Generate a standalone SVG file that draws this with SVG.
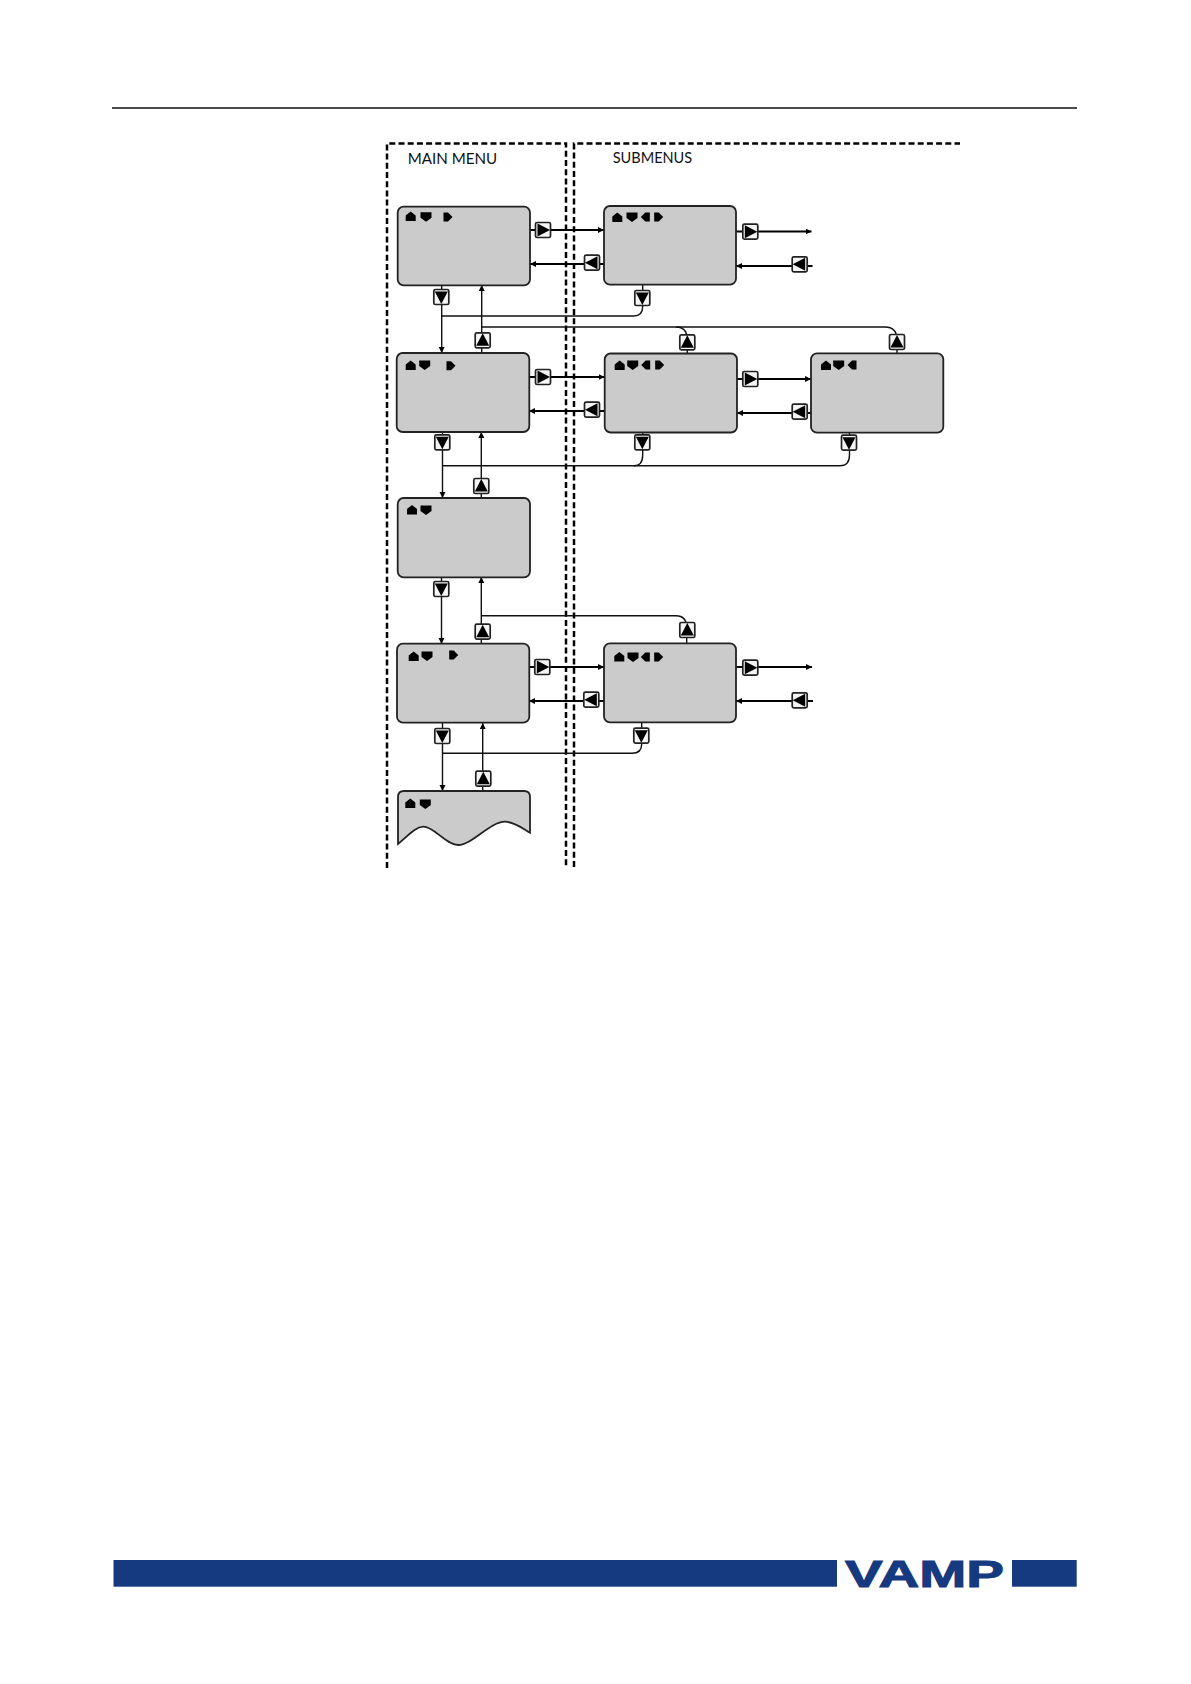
<svg xmlns="http://www.w3.org/2000/svg" xmlns:xlink="http://www.w3.org/1999/xlink" width="1191" height="1684" viewBox="0 0 1191 1684">
<style>
.scr{fill:#cbcbcb;stroke:#222;stroke-width:1.8}
.dash{fill:none;stroke:#000;stroke-width:2.5;stroke-dasharray:6 3.2}
.thin{fill:none;stroke:#111;stroke-width:1.4}
.thick{fill:none;stroke:#000;stroke-width:2}
.ah{marker-end:url(#arr)}
.lbl{font-family:Lato,"Liberation Sans",sans-serif;font-size:16px;fill:#111}
.keyb{fill:#f4f4f4;stroke:#222;stroke-width:1.7}
.ic{fill:#000}
</style>
<defs>
<marker id="arr" markerUnits="userSpaceOnUse" markerWidth="7" markerHeight="7" refX="6" refY="3" orient="auto"><path d="M0 0L6 3L0 6z" fill="#000"/></marker>
<g id="kR"><rect class="keyb" x="-7.500" y="-7.500" width="15" height="15" rx="1.6"/><path d="M-5.500-6.500L7 0L-5.500 6.500z" fill="#000"/></g>
<g id="kL"><rect class="keyb" x="-7.500" y="-7.500" width="15" height="15" rx="1.6"/><path d="M5.500-6.500L-7 0L5.500 6.500z" fill="#000"/></g>
<g id="kD"><rect class="keyb" x="-7.500" y="-7.500" width="15" height="15" rx="1.6"/><path d="M-6.500-5.500L6.500-5.500L0 7z" fill="#000"/></g>
<g id="kU"><rect class="keyb" x="-7.500" y="-7.500" width="15" height="15" rx="1.6"/><path d="M-6.500 5.500L6.500 5.500L0-7z" fill="#000"/></g>
<path id="iU" class="ic" d="M-5-1L0-5L5-1V4.500H-5z"/>
<path id="iD" class="ic" d="M-5.500-4.500H5.500V1L0 5L-5.500 1z"/>
<path id="iL" class="ic" d="M4.500-4.500V4.500H0L-4.500 0L0-4.500z"/>
<path id="iR" class="ic" d="M-4.500-4.500V4.500H0L4.500 0L0-4.500z"/>
</defs>

<rect width="1191" height="1684" fill="#fff"/>
<g id="page">
<line x1="112" y1="108" x2="1077" y2="108" stroke="#111" stroke-width="1.300"/>
<rect x="113.500" y="1560" width="723.500" height="26.700" fill="#163a80"/>
<rect x="1012" y="1560" width="64.700" height="26.700" fill="#163a80"/>
<text x="845" y="1586.700" font-family="'Liberation Sans',sans-serif" font-weight="700" font-size="36.600" fill="#163a80" stroke="#163a80" stroke-width="1" textLength="159" lengthAdjust="spacingAndGlyphs">VAMP</text>
</g>

<g id="frames">
<path class="dash" d="M387 868V143.500H566V867"/>
<path class="dash" d="M574 867V143.500H960"/>
<text class="lbl" x="407.700" y="163.500" textLength="89.500" lengthAdjust="spacingAndGlyphs">MAIN MENU</text>
<text class="lbl" x="612.700" y="162.500" textLength="79.500" lengthAdjust="spacingAndGlyphs">SUBMENUS</text>
</g>

<g id="connectors">
<path class="thick ah" d="M530 230H604"/>
<path class="thick ah" d="M604 264H530"/>
<path class="thick ah" d="M736 231.500H811.500"/>
<path class="thick ah" d="M812.500 266H736"/>
<path class="thick ah" d="M529 377H604.500"/>
<path class="thick ah" d="M604.500 411H529"/>
<path class="thick ah" d="M737 379H811"/>
<path class="thick ah" d="M811 413H737"/>
<path class="thick ah" d="M529 667H604"/>
<path class="thick ah" d="M604 701H529"/>
<path class="thick ah" d="M736 667H812"/>
<path class="thick ah" d="M813 701H736"/>

<path class="thin ah" d="M441.700 285V353"/>
<path class="thin" d="M441.700 316H634Q642.700 316 642.700 306V285"/>
<path class="thin ah" d="M481.700 353V285"/>
<path class="thin" d="M481.700 327H676Q687.300 327 687.300 340V353"/>
<path class="thin" d="M676 327H885Q897 327 897 340V353"/>

<path class="thin ah" d="M442.500 432V498"/>
<path class="thin" d="M442.500 465.700H634Q642.700 465.700 642.700 455V432"/>
<path class="thin" d="M634 465.700H840Q849.500 465.700 849.500 455V432"/>
<path class="thin ah" d="M481.300 498V432"/>

<path class="thin ah" d="M441.500 577V644"/>
<path class="thin ah" d="M481.300 644V577"/>
<path class="thin" d="M481.300 615.700H676Q686.700 615.700 686.700 628V643"/>

<path class="thin ah" d="M442.500 723V791"/>
<path class="thin" d="M442.500 753.300H632Q641.700 753.300 641.700 744V722"/>
<path class="thin ah" d="M482.700 791V723"/>
</g>

<g id="node-main-1">
<rect class="scr" x="397.700" y="206.700" width="132.300" height="78.600" rx="6"/>
<use href="#iU" x="410.700" y="216.500"/><use href="#iD" x="426" y="216.700"/><use href="#iR" x="448" y="217"/>
</g>
<g id="node-sub-1">
<rect class="scr" x="604" y="206" width="132" height="78.700" rx="6"/>
<use href="#iU" x="617.300" y="217.500"/><use href="#iD" x="632" y="217"/><use href="#iL" x="645.300" y="217"/><use href="#iR" x="658.700" y="217"/>
</g>
<g id="node-main-2">
<rect class="scr" x="396.700" y="353" width="132.600" height="79" rx="6"/>
<use href="#iU" x="410.700" y="365.500"/><use href="#iD" x="424.700" y="365"/><use href="#iR" x="451" y="365.700"/>
</g>
<g id="node-sub-2">
<rect class="scr" x="604.700" y="353.500" width="132.300" height="79" rx="6"/>
<use href="#iU" x="619.700" y="365.500"/><use href="#iD" x="632.700" y="365"/><use href="#iL" x="645.700" y="365"/><use href="#iR" x="659.700" y="365"/>
</g>
<g id="node-sub-2b">
<rect class="scr" x="811" y="353.300" width="132.300" height="79.400" rx="6"/>
<use href="#iU" x="826" y="365.500"/><use href="#iD" x="838.700" y="365"/><use href="#iL" x="852" y="365"/>
</g>
<g id="node-main-3">
<rect class="scr" x="397.700" y="498" width="132.300" height="79.300" rx="6"/>
<use href="#iU" x="412" y="510"/><use href="#iD" x="426" y="510"/>
</g>
<g id="node-main-4">
<rect class="scr" x="397" y="643.700" width="132.300" height="79" rx="6"/>
<use href="#iU" x="413.700" y="656.500"/><use href="#iD" x="427" y="656"/><use href="#iR" x="453.700" y="655"/>
</g>
<g id="node-sub-4">
<rect class="scr" x="604" y="643.300" width="132" height="79" rx="6"/>
<use href="#iU" x="619.300" y="657"/><use href="#iD" x="633" y="657"/><use href="#iL" x="645.300" y="657"/><use href="#iR" x="658.700" y="657"/>
</g>
<g id="node-main-5">
<path class="scr" d="M398 844V797Q398 791 404 791H524Q530 791 530 797V832.700C522 828 514 821.700 505 821.700C490 821.700 472 845 458.300 845C446 845 434 826.500 423.300 826.700C415 827 408 836 398 844z"/>
<use href="#iU" x="410.300" y="803.500"/><use href="#iD" x="425.300" y="804"/>
</g>

<g id="keys">
<use href="#kR" x="543" y="230"/><use href="#kL" x="592" y="262.700"/>
<use href="#kD" x="441.300" y="297"/><use href="#kD" x="642.300" y="298"/>
<use href="#kU" x="482.700" y="340.300"/><use href="#kU" x="687.300" y="342.300"/><use href="#kU" x="897" y="342"/>
<use href="#kR" x="750.300" y="231.700"/><use href="#kL" x="799.700" y="264.300"/>
<use href="#kR" x="543" y="377"/><use href="#kL" x="592" y="409.700"/>
<use href="#kR" x="750.300" y="379"/><use href="#kL" x="799.700" y="411.700"/>
<use href="#kD" x="442.300" y="442.300"/><use href="#kD" x="642.300" y="442.300"/><use href="#kD" x="849" y="442.700"/>
<use href="#kU" x="481.300" y="486"/>
<use href="#kD" x="441.300" y="589"/><use href="#kU" x="482.700" y="631.700"/><use href="#kU" x="687.300" y="630"/>
<use href="#kR" x="542.300" y="667"/><use href="#kL" x="591.300" y="699.700"/>
<use href="#kR" x="750.300" y="667.700"/><use href="#kL" x="799.700" y="700.300"/>
<use href="#kD" x="442.300" y="736"/><use href="#kD" x="641.300" y="735.700"/>
<use href="#kU" x="483.300" y="778.700"/>
</g>
</svg>
